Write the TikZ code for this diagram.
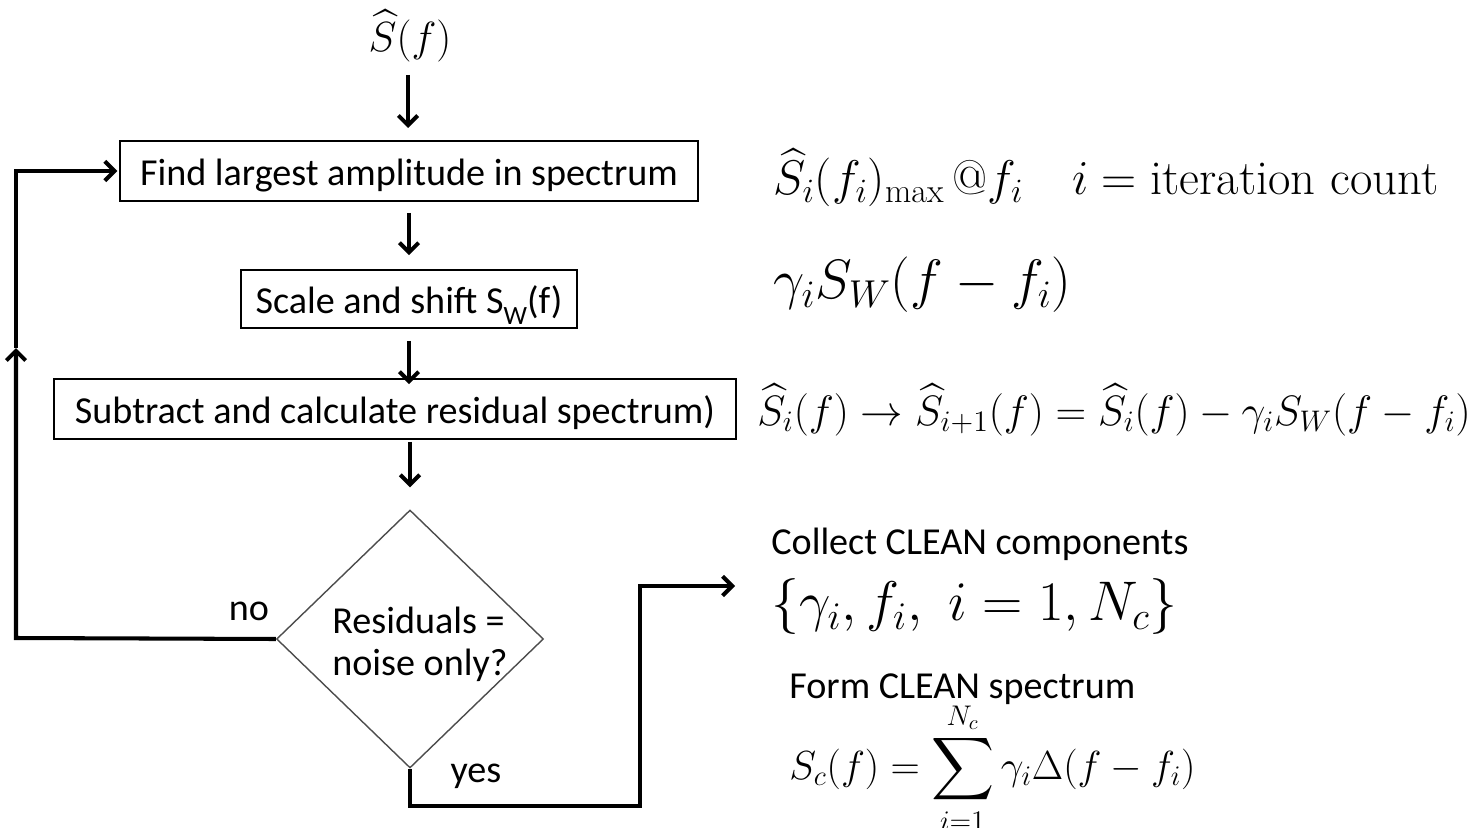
\RequirePackage{fix-cm}
\documentclass[tikz,border=0pt]{standalone}
\usepackage{amsmath}
\usepackage{fontspec}
\newfontfamily\calib{Carlito}
\usetikzlibrary{arrows.meta,shapes.geometric}
\tikzset{
  box/.style={draw, line width=0.9pt, inner sep=0pt, text height=17pt, text depth=0pt, font=\calib\fontsize{21.7}{24}\selectfont},
  lbl/.style={font=\calib\fontsize{21.7}{24}\selectfont, inner sep=0pt},
  eq/.style={anchor=west, inner sep=0pt, font=\fontsize{24}{28}\selectfont},
  tip/.style={-{Straight Barb[length=5.5pt,width=11pt]}},
  arr/.style={line width=2.3pt, tip},
  flow/.style={line width=2.3pt, line join=miter},
}
\begin{document}
\begin{tikzpicture}[x=0.02cm,y=-0.02cm]
\useasboundingbox (0,0) rectangle (1477,828);
% input
\node[inner sep=0pt, font=\fontsize{24}{28}\selectfont] (in) at (410,36) {$\widehat{S}(f)$};
% boxes
\node[box, minimum width=11.56cm, minimum height=1.2cm] (b1) at (409,171) {Find largest amplitude in spectrum};
\node[box, minimum width=6.72cm, minimum height=1.16cm] (b2) at (409,299) {Scale and shift S\raisebox{-6pt}{\fontsize{15}{15}\selectfont W}(f)};
\node[box, minimum width=13.64cm, minimum height=1.2cm] (b3) at (395,409) {Subtract and calculate residual spectrum)};
% decision
\node[diamond, draw=black!70, line width=0.8pt, minimum width=5.34cm, minimum height=5.16cm, inner sep=0pt] (d) at (410,639) {};
\node[lbl, anchor=west, align=left, font=\calib\fontsize{21.7}{24}\selectfont] (dt) at (332,644) {Residuals =\\ noise only?};
% vertical arrows
\draw[arr] (408,75) -- (408,128);
\draw[arr] ([yshift=-0.22cm]b1.south) -- ([yshift=0.28cm]b2.north);
\draw[arr] ([yshift=-0.24cm]b2.south) -- ([yshift=-0.12cm]b2.south |- b3.north);
\draw[arr] ([yshift=-0.04cm]d.north |- b3.south) -- ([yshift=0.44cm]d.north);
% no loop
\coordinate (nl) at (16,638);
\coordinate (nm) at (16,348);
\coordinate (nt) at (16,171);
\draw[flow, tip] (d.west) -- (nl) -- (nm);
\draw[flow, tip] (nm) -- (nt) -- ([xshift=-0.04cm]b1.west);
\node[lbl] (no) at (249,611) {no};
% yes path
\coordinate (y1) at (410,806);
\coordinate (y2) at (640,806);
\coordinate (y3) at (640,586);
\coordinate (y4) at (735,586);
\draw[flow, tip] (d.south) -- (y1) -- (y2) -- (y3) -- (y4);
\node[lbl] (yes) at (476,776) {yes};
% right side equations
\node[eq, font=\fontsize{27.7}{32}\selectfont] (e1) at (773,178) {$\widehat{S}_i(f_i)_{\mathrm{max}}\,@f_i\quad i=\text{iteration count}$};
\node[eq, font=\fontsize{31.6}{36}\selectfont] (e2) at (773,285) {$\gamma_i S_W(f-f_i)$};
\node[eq, font=\fontsize{24.2}{28}\selectfont] (e3) at (757,410) {$\widehat{S}_i(f)\to\widehat{S}_{i+1}(f)=\widehat{S}_i(f)-\gamma_i S_W(f-f_i)$};
\node[lbl, anchor=west] (t1) at (771,544) {Collect CLEAN components};
\node[eq, font=\fontsize{31.8}{36}\selectfont] (e4) at (771,607) {$\{\gamma_i, f_i,\ i=1,N_c\}$};
\node[lbl, anchor=west] (t2) at (789,689) {Form CLEAN spectrum};
\node[eq, font=\fontsize{23.1}{26}\selectfont] (e5) at (789,768) {$\displaystyle S_c(f)=\sum_{i=1}^{N_c}\gamma_i\Delta(f-f_i)$};
\end{tikzpicture}
\end{document}
